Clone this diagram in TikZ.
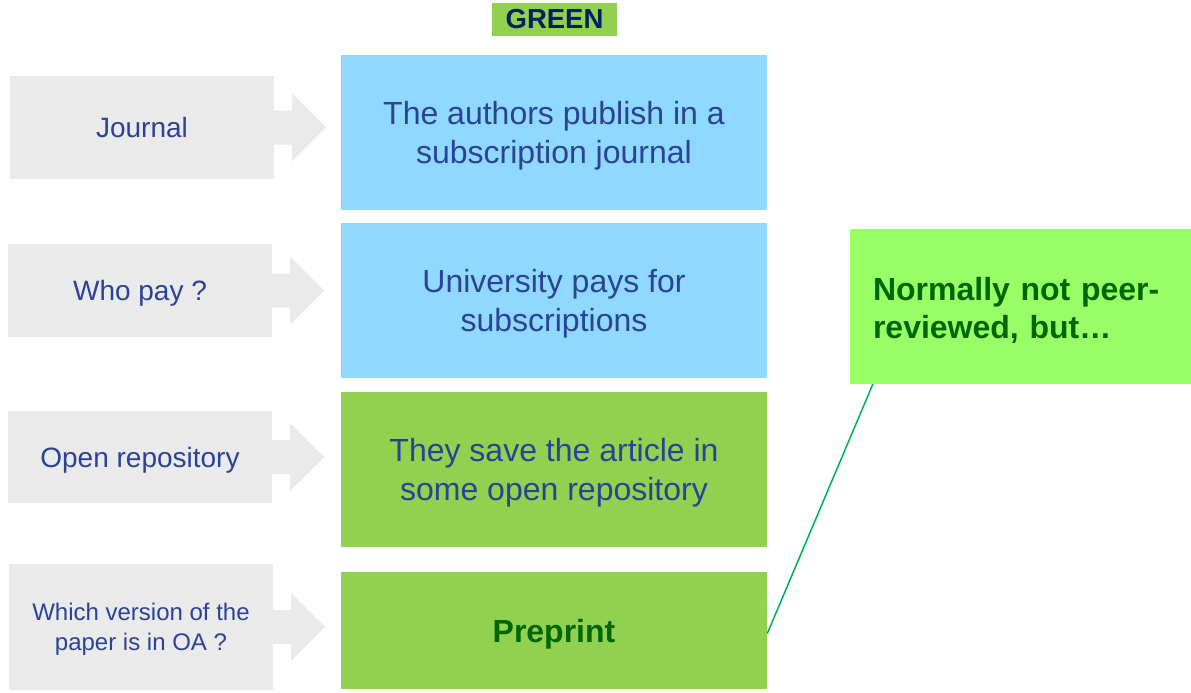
\documentclass[tikz,border=0pt]{standalone}
\usepackage{fontspec}
\setmainfont{Liberation Sans}
\usetikzlibrary{positioning}

\definecolor{graybg}{HTML}{EAEAEA}
\definecolor{skyblue}{HTML}{8FD8FF}
\definecolor{oagreen}{HTML}{92D050}
\definecolor{notegreen}{HTML}{99FF66}
\definecolor{textblue}{HTML}{2B4395}
\definecolor{darkgreen}{HTML}{006600}
\definecolor{navy}{HTML}{002060}
\definecolor{linkgreen}{HTML}{00B050}

\begin{document}
\begin{tikzpicture}[x=1pt, y=-1pt,
    labelbox/.style={fill=graybg, text=textblue, align=center, minimum width=264pt,
        inner sep=0pt, text depth=0pt, font=\fontsize{28}{30}\selectfont},
    infobox/.style={text=textblue, align=center, minimum width=426pt, minimum height=155pt,
        inner sep=0pt, text depth=0pt, font=\fontsize{32}{39}\selectfont}]
    \useasboundingbox (0,0) rectangle (1191,693);

    % heading
    \node [fill=oagreen, text=navy, minimum width=125pt, minimum height=33pt, inner sep=0pt,
        font=\fontsize{27.5}{30}\selectfont\bfseries] (green) at (554.5,19.5) {GREEN};

    % middle column
    \node [infobox, fill=skyblue] (journal) at (554,132.5) {The authors publish in a\\subscription journal};
    \node [infobox, fill=skyblue, below=13pt of journal] (pay) {University pays for\\subscriptions};
    \node [infobox, fill=oagreen, below=13pt of pay] (repo) {They save the article in\\some open repository};
    \node [infobox, fill=oagreen, minimum height=117pt, text=darkgreen, below=25pt of repo,
        font=\fontsize{32}{39}\selectfont\bfseries] (pre) {Preprint};

    % left column
    \node [labelbox, minimum height=103pt] (qjournal) at (142,127.5) {Journal};
    \node [labelbox, minimum height=93pt] (qpay) at (140,290.5) {Who pay ?};
    \node [labelbox, minimum height=92pt] (qrepo) at (140,457) {Open repository};
    \node [labelbox, minimum height=126pt, font=\fontsize{24}{30}\selectfont] (qver) at (141,627)
        {Which version of the\\paper is in OA ?};

    \foreach \q in {qjournal,qpay,qrepo,qver}
        \fill [graybg] (\q.east) ++(-1,-17) -- ++(19,0) -- ++(0,-17) -- ++(34,34)
            -- ++(-34,34) -- ++(0,-17) -- ++(-19,0) -- cycle;

    % note
    \node [fill=notegreen, text=darkgreen, minimum width=341pt, minimum height=155pt,
        text width=295pt, align=left, inner sep=0pt, text height=30pt,
        font=\fontsize{32}{38}\selectfont\bfseries] (note) at (1020.5,306.5) {Normally not peer-\\reviewed, but\dots};
    \draw [linkgreen, line width=1.5pt] ([xshift=23pt]note.south west) -- ([yshift=-3pt]pre.east);
\end{tikzpicture}
\end{document}
